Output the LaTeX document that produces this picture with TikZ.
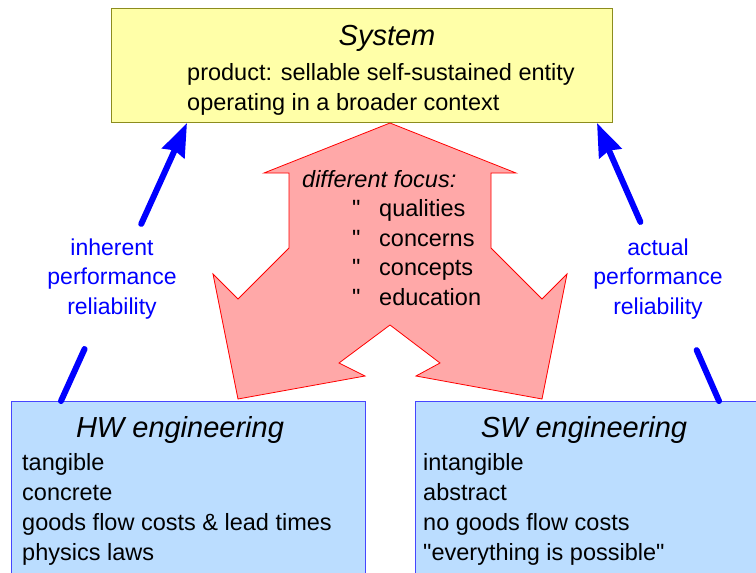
\documentclass[tikz,border=0pt]{standalone}
\usepackage{fontspec}
\setmainfont{Liberation Sans}
\usetikzlibrary{arrows.meta,calc}
\definecolor{sysfill}{RGB}{255,255,168}
\definecolor{sysline}{RGB}{140,140,30}
\definecolor{engfill}{RGB}{187,221,255}
\definecolor{engline}{RGB}{70,70,255}
\definecolor{focusfill}{RGB}{255,168,168}
\tikzset{
	box/.style={draw, line width=1pt, inner sep=0, anchor=north west},
	title/.style={font=\fontsize{29}{35}\selectfont\itshape, inner sep=0, anchor=base},
	body/.style={font=\fontsize{23.5}{30}\selectfont, inner sep=0, anchor=base west, align=left},
	lbl/.style={font=\fontsize{23}{29.5}\selectfont, text=blue, align=center, inner sep=0},
	flow/.style={draw=blue, line width=6pt, line cap=round},
}

\begin{document}
\begin{tikzpicture}[x=1pt,y=-1pt]
		  \clip (0,0) rectangle (756,573);
		  % the 3 boxes (body nodes sit on the baseline of their last line)
		  \node[box, draw=sysline, fill=sysfill, minimum width=501, minimum height=114] (sys) at (111,8) {};
		  \node[box, draw=engline, fill=engfill, minimum width=354, minimum height=200] (hw) at (11,401) {};
		  \node[box, draw=engline, fill=engfill, minimum width=360, minimum height=200] (sw) at (415,401) {};
		  \node[title] (systitle) at (387,45) {System};
		  \node[body] (sysbody) at (187,110) {product: sellable self-sustained entity\\operating in a broader context};
		  \node[title] (hwtitle) at (180,437) {HW engineering};
		  \node[body] (hwbody) at (22,560) {tangible\\concrete\\goods flow costs \& lead times\\physics laws};
		  \node[title] (swtitle) at (584,437) {SW engineering};
		  \node[body] (swbody) at (423,560) {intangible\\abstract\\no goods flow costs\\\textquotedbl everything is possible\textquotedbl};
		  % three-headed arrow
		  \draw[draw=red, fill=focusfill, line width=0.8pt] (390,123) -- (516,173) -- (491,173) -- (491,248)
		    -- (542,299) -- (567,274) -- (542,399) -- (416,376) -- (440,363) -- (390,325) -- (339,363)
		    -- (365,376) -- (238,399) -- (213,274) -- (238,299) -- (289,248) -- (289,173) -- (264,173) -- cycle;
		  \node[body, font=\fontsize{23.5}{29.5}\selectfont\itshape] (focus) at (302,187) {different focus:};
		  \foreach \w [count=\k] in {qualities, concerns, concepts, education}{
		    \node[body] (dq\k) at (352,187+29.5*\k) {\textquotedbl};
		    \node[body] (item\k) at (379,187+29.5*\k) {\w};
		  }
		  % blue arrows with their labels
		  \coordinate (hwout) at ([xshift=50pt]hw.north west);
		  \coordinate (sysinl) at ([xshift=76pt]sys.south west);
		  \coordinate (swout) at ([xshift=304pt]sw.north west);
		  \coordinate (sysinr) at ([xshift=-16pt]sys.south east);
		  \node[lbl] (inherent) at (112,279) {inherent\\performance\\reliability};
		  \node[lbl] (actual) at (658,279) {actual\\performance\\reliability};
		  \draw[flow] (hwout) -- ($(hwout)!0.187!(sysinl)$);
		  \draw[flow, -{Stealth[length=33pt,width=24pt,inset=3pt]}] ($(hwout)!0.637!(sysinl)$) -- (sysinl);
		  \draw[flow] (swout) -- ($(swout)!0.183!(sysinr)$);
		  \draw[flow, -{Stealth[length=33pt,width=24pt,inset=3pt]}] ($(swout)!0.644!(sysinr)$) -- (sysinr);
\end{tikzpicture}
\end{document}
